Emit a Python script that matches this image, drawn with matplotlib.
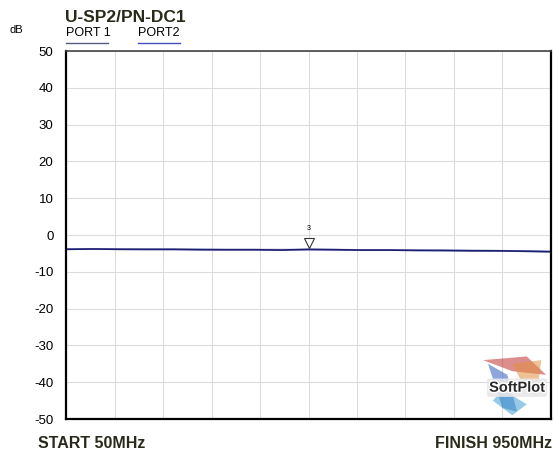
import numpy as np
import matplotlib.pyplot as plt
import matplotlib.patheffects as pe
from matplotlib.patches import Polygon

plt.rcParams["font.family"] = ["Liberation Sans", "DejaVu Sans"]
plt.rcParams["axes.unicode_minus"] = False

# frequency points (MHz) and insertion loss (dB)
freq = [50, 100, 150, 200, 250, 300, 350, 400, 450, 500,
        550, 600, 650, 700, 750, 800, 850, 900, 950]
port1 = [-3.8, -3.8, -3.8, -3.9, -3.9, -3.9, -4.0, -4.0, -4.0, -4.0,
         -4.0, -4.1, -4.1, -4.1, -4.2, -4.2, -4.3, -4.4, -4.6]
port2 = [-3.9, -3.8, -3.9, -3.9, -3.9, -4.0, -4.0, -4.0, -4.1, -3.9,
         -4.0, -4.1, -4.1, -4.2, -4.2, -4.3, -4.3, -4.4, -4.5]
yticks = [50, 40, 30, 20, 10, 0, -10, -20, -30, -40, -50]
marker_freq = 500
marker_val = -3.7

fig = plt.figure(figsize=(5.54, 4.59), dpi=100)
ax = fig.add_axes([66 / 554, 40 / 459, 485 / 554, 368 / 459])

ax.plot(freq, port1, color="#9a9cc8", lw=1.4)
ax.plot(freq, port2, color="#1c2070", lw=1.2)

# marker triangle
ax.plot([marker_freq], [marker_val + 1.6], marker="v", ms=7, mfc="white",
        mec="#333333", mew=0.8, linestyle="none")
ax.text(marker_freq, marker_val + 4.5, "3", fontsize=5, ha="center", va="bottom")

ax.set_xlim(50, 950)
ax.set_ylim(-50, 50)
ax.set_xticks(np.linspace(50, 950, 11))
ax.set_yticks(yticks)
ax.tick_params(axis="x", length=0, labelbottom=False)
ax.tick_params(axis="y", length=0, labelsize=9.5, pad=9)
ax.grid(True, color="#dcdcdc", lw=0.8)
ax.set_axisbelow(True)

for side in ("left", "bottom", "right"):
    ax.spines[side].set_linewidth(1.6)
    ax.spines[side].set_color("black")
ax.spines["top"].set_linewidth(1.2)
ax.spines["top"].set_color("#444444")

# header
fig.text(65 / 554, 1 - 18 / 459, "U-SP2/PN-DC1", fontsize=12.5, fontweight="bold",
         color="#2a2a1a", va="center")
fig.text(10 / 554, 1 - 30 / 459, "dB", fontsize=8, va="center")
fig.text(66 / 554, 1 - 33 / 459, "PORT 1", fontsize=9, va="center")
fig.text(138 / 554, 1 - 33 / 459, "PORT2", fontsize=9, va="center")
fig.add_artist(plt.Line2D([66 / 554, 108 / 554], [1 - 43 / 459] * 2, color="#555a80", lw=1))
fig.add_artist(plt.Line2D([138 / 554, 180 / 554], [1 - 43 / 459] * 2, color="#4050c0", lw=1))

# footer
fig.text(38 / 554, 1 - 444 / 459, "START 50MHz", fontsize=11.5, fontweight="bold",
         color="#2a2a1a", va="center")
fig.text(552 / 554, 1 - 444 / 459, "FINISH 950MHz", fontsize=11.5, fontweight="bold",
         color="#2a2a1a", va="center", ha="right")

# logo splash
splash = [
    ([(0.86, 0.16), (0.95, 0.17), (0.99, 0.12), (0.92, 0.13)], "#c03030"),
    ([(0.87, 0.15), (0.90, 0.03), (0.93, 0.02), (0.91, 0.12)], "#3060c0"),
    ([(0.92, 0.15), (0.98, 0.16), (0.97, 0.06), (0.94, 0.10)], "#e09040"),
    ([(0.88, 0.05), (0.92, 0.01), (0.95, 0.04), (0.90, 0.08)], "#40a0d0"),
]
for pts, c in splash:
    ax.add_patch(Polygon(pts, closed=True, transform=ax.transAxes,
                         color=c, alpha=0.55, lw=0))
ax.text(0.93, 0.085, "SoftPlot", transform=ax.transAxes, fontsize=10.5,
        fontweight="bold", color="#2a2a2a", ha="center", va="center",
        bbox=dict(boxstyle="round,pad=0.15", fc="#e8e8e8", ec="none", alpha=0.9),
        path_effects=[pe.withStroke(linewidth=2, foreground="white")])

fig.savefig("out.png", dpi=100)
